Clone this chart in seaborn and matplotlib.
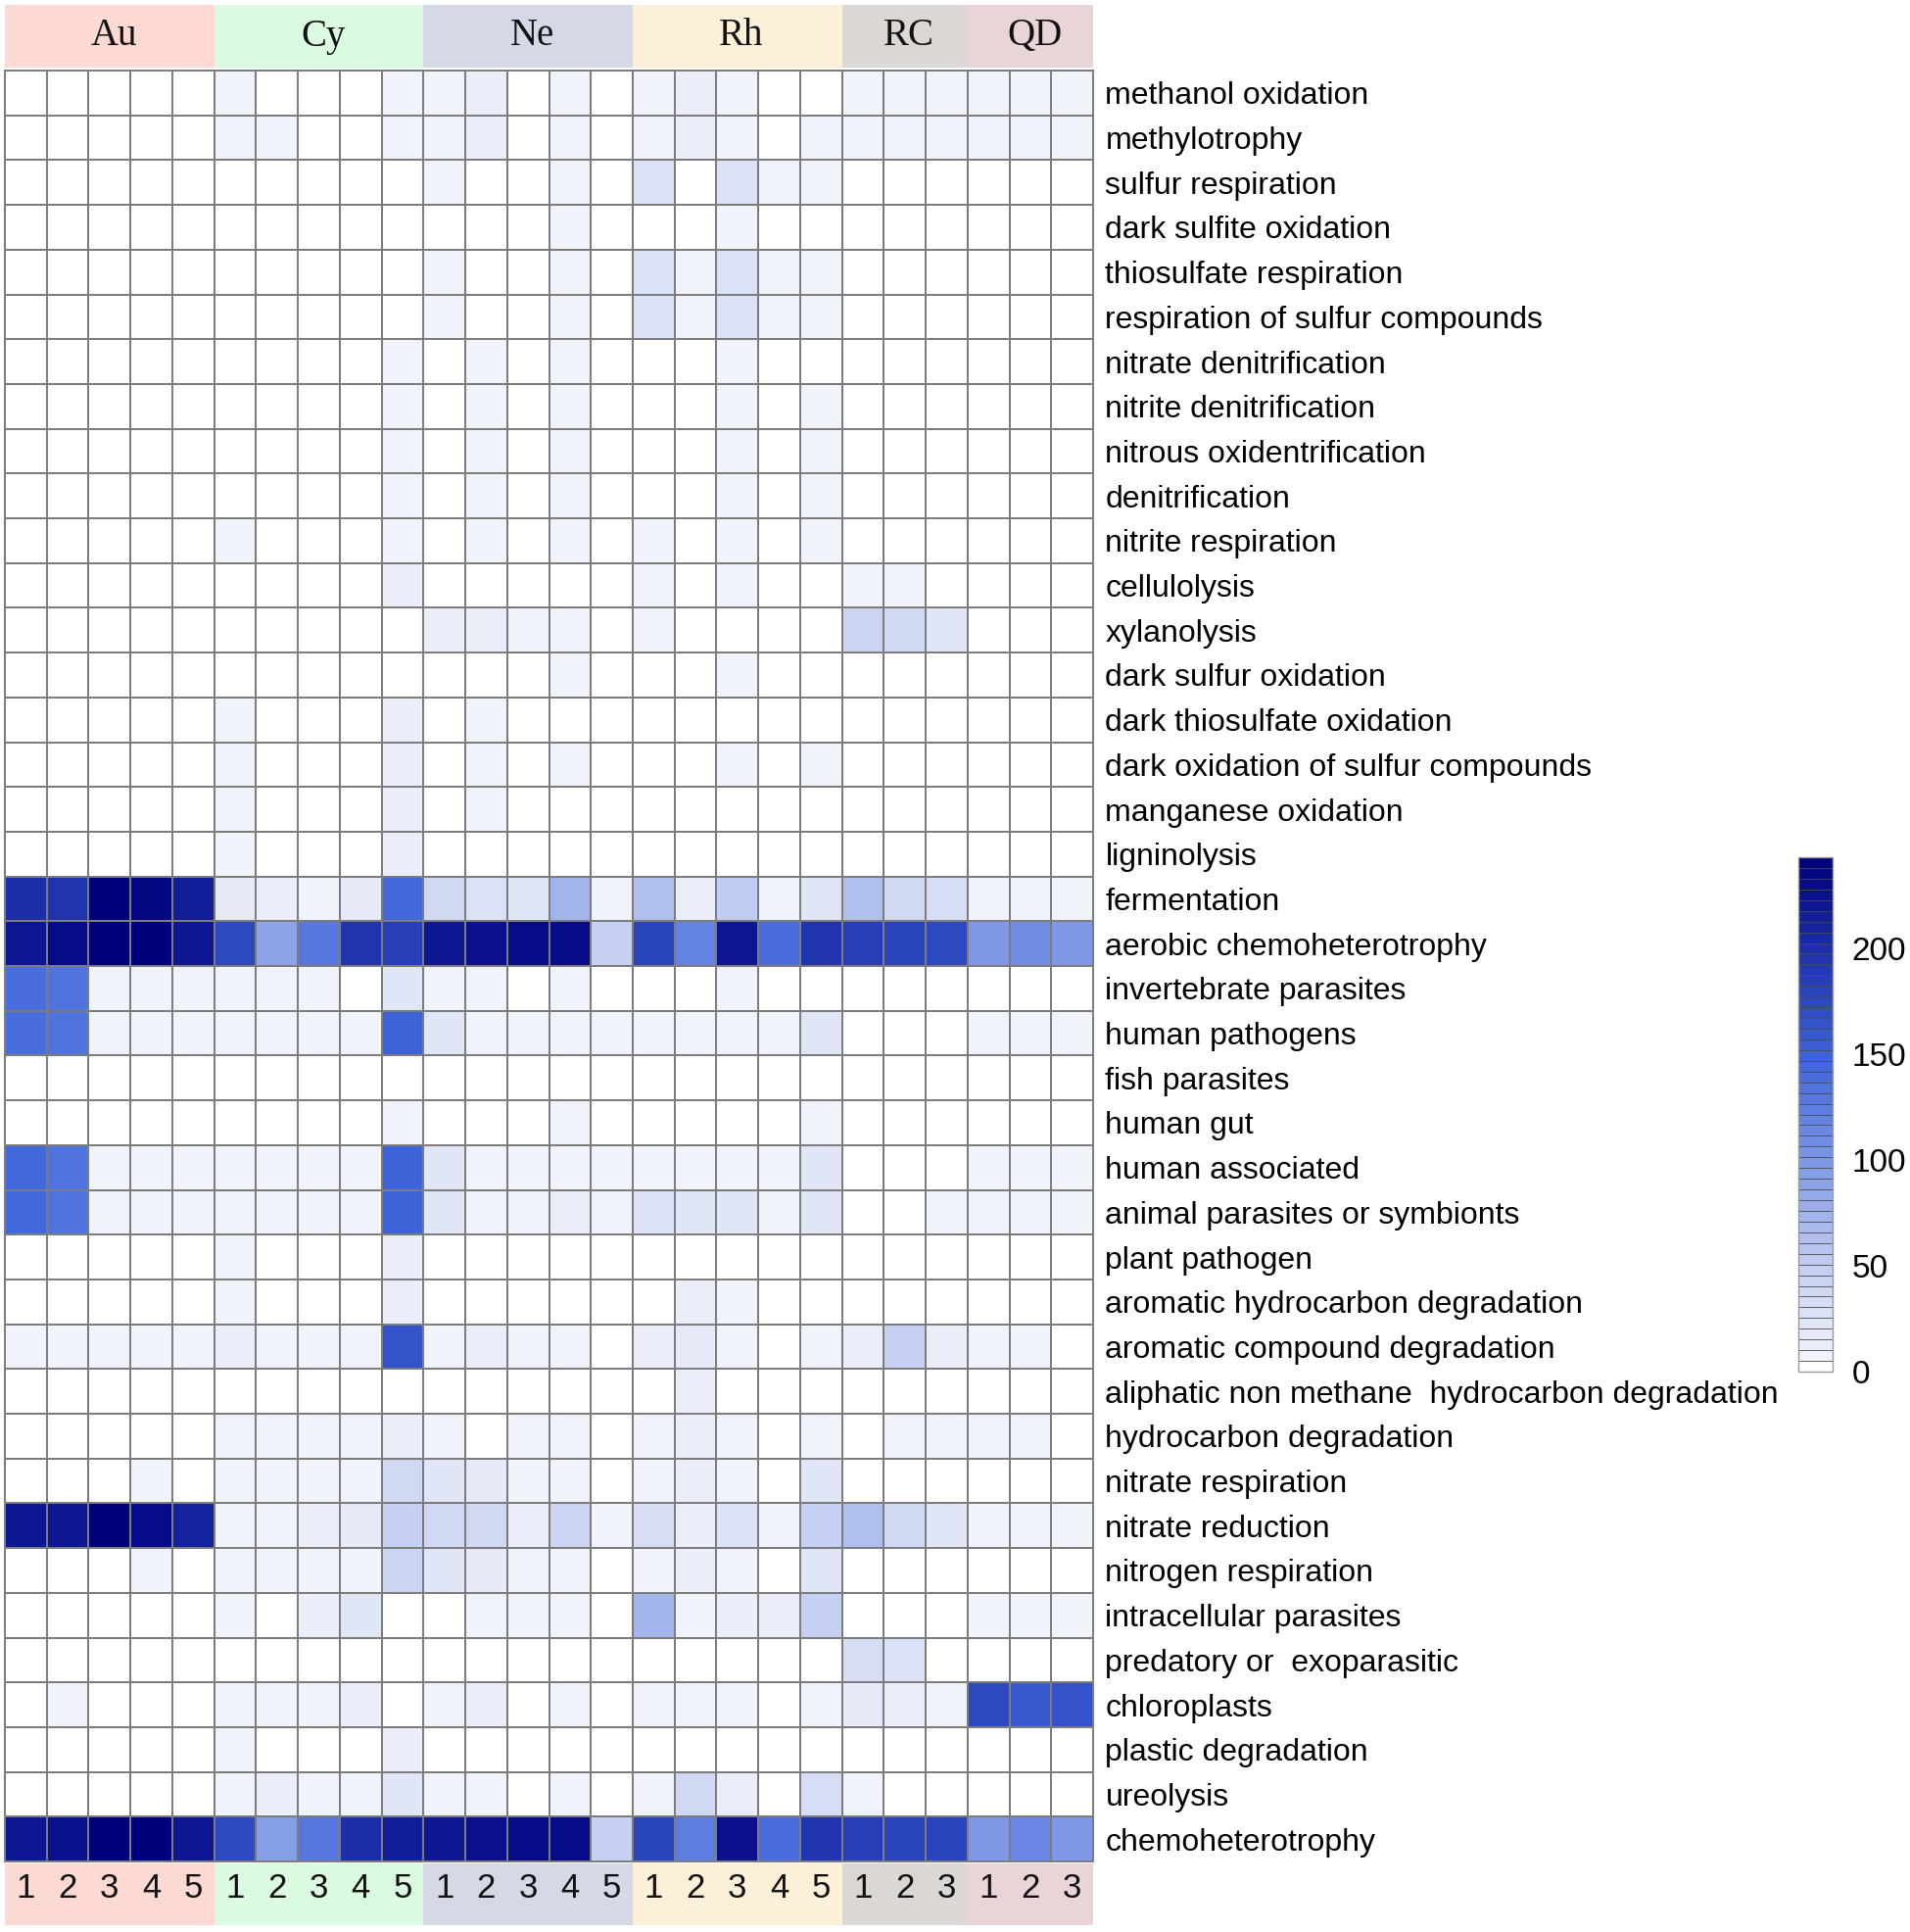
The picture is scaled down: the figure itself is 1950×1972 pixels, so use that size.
import numpy as np
import pandas as pd
import matplotlib
matplotlib.use('Agg')
import matplotlib.pyplot as plt
from matplotlib.colors import LinearSegmentedColormap, ListedColormap
import seaborn as sns

# functional groups (rows, top to bottom)
functions = [
    'methanol oxidation', 'methylotrophy', 'sulfur respiration', 'dark sulfite oxidation',
    'thiosulfate respiration', 'respiration of sulfur compounds', 'nitrate denitrification',
    'nitrite denitrification', 'nitrous oxidentrification', 'denitrification',
    'nitrite respiration', 'cellulolysis', 'xylanolysis', 'dark sulfur oxidation',
    'dark thiosulfate oxidation', 'dark oxidation of sulfur compounds', 'manganese oxidation',
    'ligninolysis', 'fermentation', 'aerobic chemoheterotrophy', 'invertebrate parasites',
    'human pathogens', 'fish parasites', 'human gut', 'human associated',
    'animal parasites or symbionts', 'plant pathogen', 'aromatic hydrocarbon degradation',
    'aromatic compound degradation', 'aliphatic non methane  hydrocarbon degradation',
    'hydrocarbon degradation', 'nitrate respiration', 'nitrate reduction',
    'nitrogen respiration', 'intracellular parasites', 'predatory or  exoparasitic',
    'chloroplasts', 'plastic degradation', 'ureolysis', 'chemoheterotrophy',
]

groups = ['Au', 'Cy', 'Ne', 'Rh', 'RC', 'QD']
group_sizes = [5, 5, 5, 5, 3, 3]
group_colors = ['#fcd9d3', '#dbfbe1', '#d5d9e5', '#fdf0d9', '#dad7d4', '#e9d5d8']
sample_labels = ['1', '2', '3', '4', '5', '1', '2', '3', '4', '5', '1', '2', '3', '4', '5',
                 '1', '2', '3', '4', '5', '1', '2', '3', '1', '2', '3']

# values, one list per row, per group
au = [
    [0, 0, 0, 0, 0], [0, 0, 0, 0, 0], [0, 0, 0, 0, 0], [0, 0, 0, 0, 0], [0, 0, 0, 0, 0],
    [0, 0, 0, 0, 0], [0, 0, 0, 0, 0], [0, 0, 0, 0, 0], [0, 0, 0, 0, 0], [0, 0, 0, 0, 0],
    [0, 0, 0, 0, 0], [0, 0, 0, 0, 0], [0, 0, 0, 0, 0], [0, 0, 0, 0, 0], [0, 0, 0, 0, 0],
    [0, 0, 0, 0, 0], [0, 0, 0, 0, 0], [0, 0, 0, 0, 0],
    [200, 195, 243, 235, 215], [222, 228, 243, 238, 218],
    [140, 132, 10, 6, 6], [140, 132, 8, 6, 8], [0, 0, 0, 0, 0], [0, 0, 0, 0, 0],
    [145, 135, 8, 6, 8], [145, 135, 8, 6, 8], [0, 0, 0, 0, 0], [0, 0, 0, 0, 0],
    [6, 6, 6, 8, 6], [0, 0, 0, 0, 0], [0, 0, 0, 0, 0], [0, 0, 0, 6, 0],
    [222, 220, 238, 232, 212], [0, 0, 0, 6, 0], [0, 0, 0, 0, 0], [0, 0, 0, 0, 0],
    [0, 6, 0, 0, 0], [0, 0, 0, 0, 0], [0, 0, 0, 0, 0], [222, 226, 243, 238, 218],
]
cy = [
    [6, 0, 0, 0, 6], [6, 6, 0, 0, 6], [0, 0, 0, 0, 0], [0, 0, 0, 0, 0], [0, 0, 0, 0, 0],
    [0, 0, 0, 0, 0], [0, 0, 0, 0, 6], [0, 0, 0, 0, 6], [0, 0, 0, 0, 6], [0, 0, 0, 0, 6],
    [6, 0, 0, 0, 6], [0, 0, 0, 0, 12], [0, 0, 0, 0, 0], [0, 0, 0, 0, 0], [6, 0, 0, 0, 12],
    [6, 0, 0, 0, 12], [6, 0, 0, 0, 12], [6, 0, 0, 0, 12],
    [20, 15, 10, 20, 145], [175, 90, 130, 195, 185],
    [6, 6, 6, 0, 22], [8, 6, 6, 6, 148], [0, 0, 0, 0, 0], [0, 0, 0, 0, 6],
    [8, 6, 6, 6, 150], [6, 6, 6, 6, 150], [6, 0, 0, 0, 12], [6, 0, 0, 0, 12],
    [15, 6, 8, 6, 165], [0, 0, 0, 0, 0], [6, 6, 6, 8, 15], [6, 6, 6, 8, 40],
    [8, 8, 12, 20, 50], [6, 6, 6, 8, 45], [6, 0, 15, 22, 0], [0, 0, 0, 0, 0],
    [6, 6, 6, 15, 0], [6, 0, 0, 0, 12], [6, 12, 8, 6, 22], [175, 95, 130, 200, 215],
]
ne = [
    [6, 12, 0, 6, 0], [6, 12, 0, 6, 0], [6, 0, 0, 6, 0], [0, 0, 0, 6, 0], [6, 0, 0, 6, 0],
    [6, 0, 0, 6, 0], [0, 10, 0, 6, 0], [0, 10, 0, 6, 0], [0, 10, 0, 6, 0], [0, 10, 0, 6, 0],
    [0, 10, 0, 8, 0], [0, 0, 0, 0, 0], [12, 15, 8, 6, 0], [0, 0, 0, 6, 0], [0, 6, 0, 0, 0],
    [0, 6, 0, 6, 0], [0, 8, 0, 0, 0], [0, 0, 0, 0, 0],
    [40, 30, 22, 75, 10], [222, 225, 230, 232, 50],
    [6, 6, 0, 6, 0], [22, 8, 8, 8, 6], [0, 0, 0, 0, 0], [0, 0, 0, 6, 0],
    [22, 8, 8, 8, 6], [25, 8, 8, 12, 6], [0, 0, 0, 0, 0], [0, 0, 0, 0, 0],
    [8, 15, 6, 8, 0], [0, 0, 0, 0, 0], [6, 0, 6, 6, 0], [25, 20, 8, 8, 0],
    [40, 40, 12, 45, 6], [25, 20, 8, 8, 0], [0, 6, 8, 6, 0], [0, 0, 0, 0, 0],
    [6, 12, 0, 6, 0], [0, 0, 0, 0, 0], [6, 6, 0, 6, 0], [222, 224, 232, 232, 50],
]
rh = [
    [6, 15, 6, 0, 0], [6, 15, 6, 0, 6], [30, 0, 30, 6, 8], [0, 0, 6, 0, 0], [30, 6, 30, 6, 8],
    [30, 6, 30, 6, 8], [0, 0, 6, 0, 0], [0, 0, 6, 0, 6], [0, 0, 6, 0, 6], [0, 0, 6, 0, 6],
    [6, 0, 6, 0, 6], [6, 0, 6, 0, 0], [6, 0, 0, 0, 0], [0, 0, 10, 0, 0], [0, 0, 0, 0, 0],
    [0, 0, 10, 0, 6], [0, 0, 0, 0, 0], [0, 0, 0, 0, 0],
    [65, 15, 55, 8, 25], [180, 120, 222, 140, 195],
    [0, 0, 6, 0, 0], [6, 10, 8, 6, 22], [0, 0, 0, 0, 0], [0, 0, 0, 0, 6],
    [6, 10, 8, 6, 22], [30, 22, 25, 8, 25], [0, 0, 0, 0, 0], [0, 12, 6, 0, 0],
    [15, 20, 10, 0, 8], [0, 12, 0, 0, 0], [8, 12, 10, 0, 6], [8, 12, 8, 0, 22],
    [35, 12, 30, 6, 50], [8, 12, 8, 0, 22], [75, 6, 12, 15, 50], [0, 0, 0, 0, 0],
    [6, 6, 6, 0, 6], [0, 0, 0, 0, 0], [6, 40, 12, 0, 35], [180, 125, 225, 140, 195],
]
rc = [
    [6, 6, 6], [6, 6, 6], [0, 0, 0], [0, 0, 0], [0, 0, 0], [0, 0, 0], [0, 0, 0],
    [0, 0, 0], [0, 0, 0], [0, 0, 0], [0, 0, 0], [6, 6, 0], [45, 40, 25], [0, 0, 0],
    [0, 0, 0], [0, 0, 0], [0, 0, 0], [0, 0, 0], [65, 40, 35], [185, 180, 175],
    [0, 0, 0], [0, 0, 0], [0, 0, 0], [0, 0, 0], [0, 0, 0], [0, 0, 6], [0, 0, 0],
    [0, 0, 0], [15, 50, 15], [0, 0, 0], [0, 6, 6], [0, 0, 0], [65, 40, 25], [0, 0, 0],
    [0, 0, 0], [35, 30, 0], [20, 12, 6], [0, 0, 0], [6, 0, 0], [185, 182, 178],
]
qd = [
    [6, 6, 6], [6, 6, 6], [0, 0, 0], [0, 0, 0], [0, 0, 0], [0, 0, 0], [0, 0, 0],
    [0, 0, 0], [0, 0, 0], [0, 0, 0], [0, 0, 0], [0, 0, 0], [0, 0, 0], [0, 0, 0],
    [0, 0, 0], [0, 0, 0], [0, 0, 0], [0, 0, 0], [6, 8, 6], [100, 110, 100],
    [0, 0, 0], [6, 6, 6], [0, 0, 0], [0, 0, 0], [6, 6, 6], [6, 6, 6], [0, 0, 0],
    [0, 0, 0], [6, 6, 0], [0, 0, 0], [6, 6, 0], [0, 0, 0], [6, 6, 6], [0, 0, 0],
    [6, 6, 6], [0, 0, 0], [175, 160, 165], [0, 0, 0], [0, 0, 0], [100, 115, 100],
]

values = np.hstack([np.array(g) for g in (au, cy, ne, rh, rc, qd)])
columns = [f'{g}{s}' for g, n in zip(groups, group_sizes) for s in range(1, n + 1)]
df = pd.DataFrame(values, index=functions, columns=columns)

# white -> royal blue -> navy, in 48 discrete steps like the original legend
cmap = LinearSegmentedColormap.from_list(
    'wb', [(0.0, '#ffffff'), (0.02, '#f1f3fa'), (0.2, '#c4cef2'), (0.4, '#7f99e6'),
           (0.6, '#4167dc'), (0.8, '#2136b0'), (1.0, '#00007c')], N=48)

W, H = 1950, 1972
fig = plt.figure(figsize=(W / 100, H / 100), dpi=100)
ax = fig.add_axes([5 / W, 1 - 1900 / H, 1111 / W, 1828 / H])
ax_top = fig.add_axes([5 / W, 1 - 69 / H, 1111 / W, 64 / H])
ax_bot = fig.add_axes([5 / W, 1 - 1965 / H, 1111 / W, 63 / H])
cax = fig.add_axes([1836 / W, 1 - 1400 / H, 35 / W, 525 / H])

sns.heatmap(df, ax=ax, cmap=cmap, vmin=0, vmax=243, linewidths=1.4, linecolor='#7c7c7c',
            xticklabels=False, yticklabels=functions, cbar_ax=cax,
            cbar_kws={'drawedges': True, 'ticks': [0, 50, 100, 150, 200]})
ax.yaxis.tick_right()
ax.tick_params(axis='y', length=0, pad=9, labelsize=23)
for lab in ax.get_yticklabels():
    lab.set_rotation(0)
    lab.set_horizontalalignment('left')
    lab.set_family('Liberation Sans')
for s in ax.spines.values():
    s.set_visible(True)
    s.set_color('#7c7c7c')
    s.set_linewidth(1.4)

cbar = ax.collections[0].colorbar
cbar.dividers.set_color('#4a4a4a')
cbar.dividers.set_linewidth(0.6)
cbar.outline.set_edgecolor('#9a9a9a')
cbar.outline.set_linewidth(1.0)
cax.tick_params(length=0, labelsize=24, pad=14)
for lab in cax.get_yticklabels():
    lab.set_family('Liberation Sans')

# coloured group strips above and below
codes = np.repeat(np.arange(len(groups)), group_sizes)[None, :]
strip_cmap = ListedColormap(group_colors)
for strip in (ax_top, ax_bot):
    sns.heatmap(codes, ax=strip, cmap=strip_cmap, vmin=-0.5, vmax=len(groups) - 0.5,
                cbar=False, xticklabels=False, yticklabels=False)

starts = np.cumsum([0] + group_sizes[:-1])
for g, st, n in zip(groups, starts, group_sizes):
    ax_top.text(st + n / 2 + 0.1, 0.5, g, ha='center', va='center', fontsize=28,
                family='Liberation Serif', color='#111111')

for i, lab in enumerate(sample_labels):
    ax_bot.text(i + 0.5, 0.4, lab, ha='center', va='center', fontsize=25,
                family='Liberation Sans', color='#111111')

fig.savefig('out.png', dpi=100, facecolor='white')
